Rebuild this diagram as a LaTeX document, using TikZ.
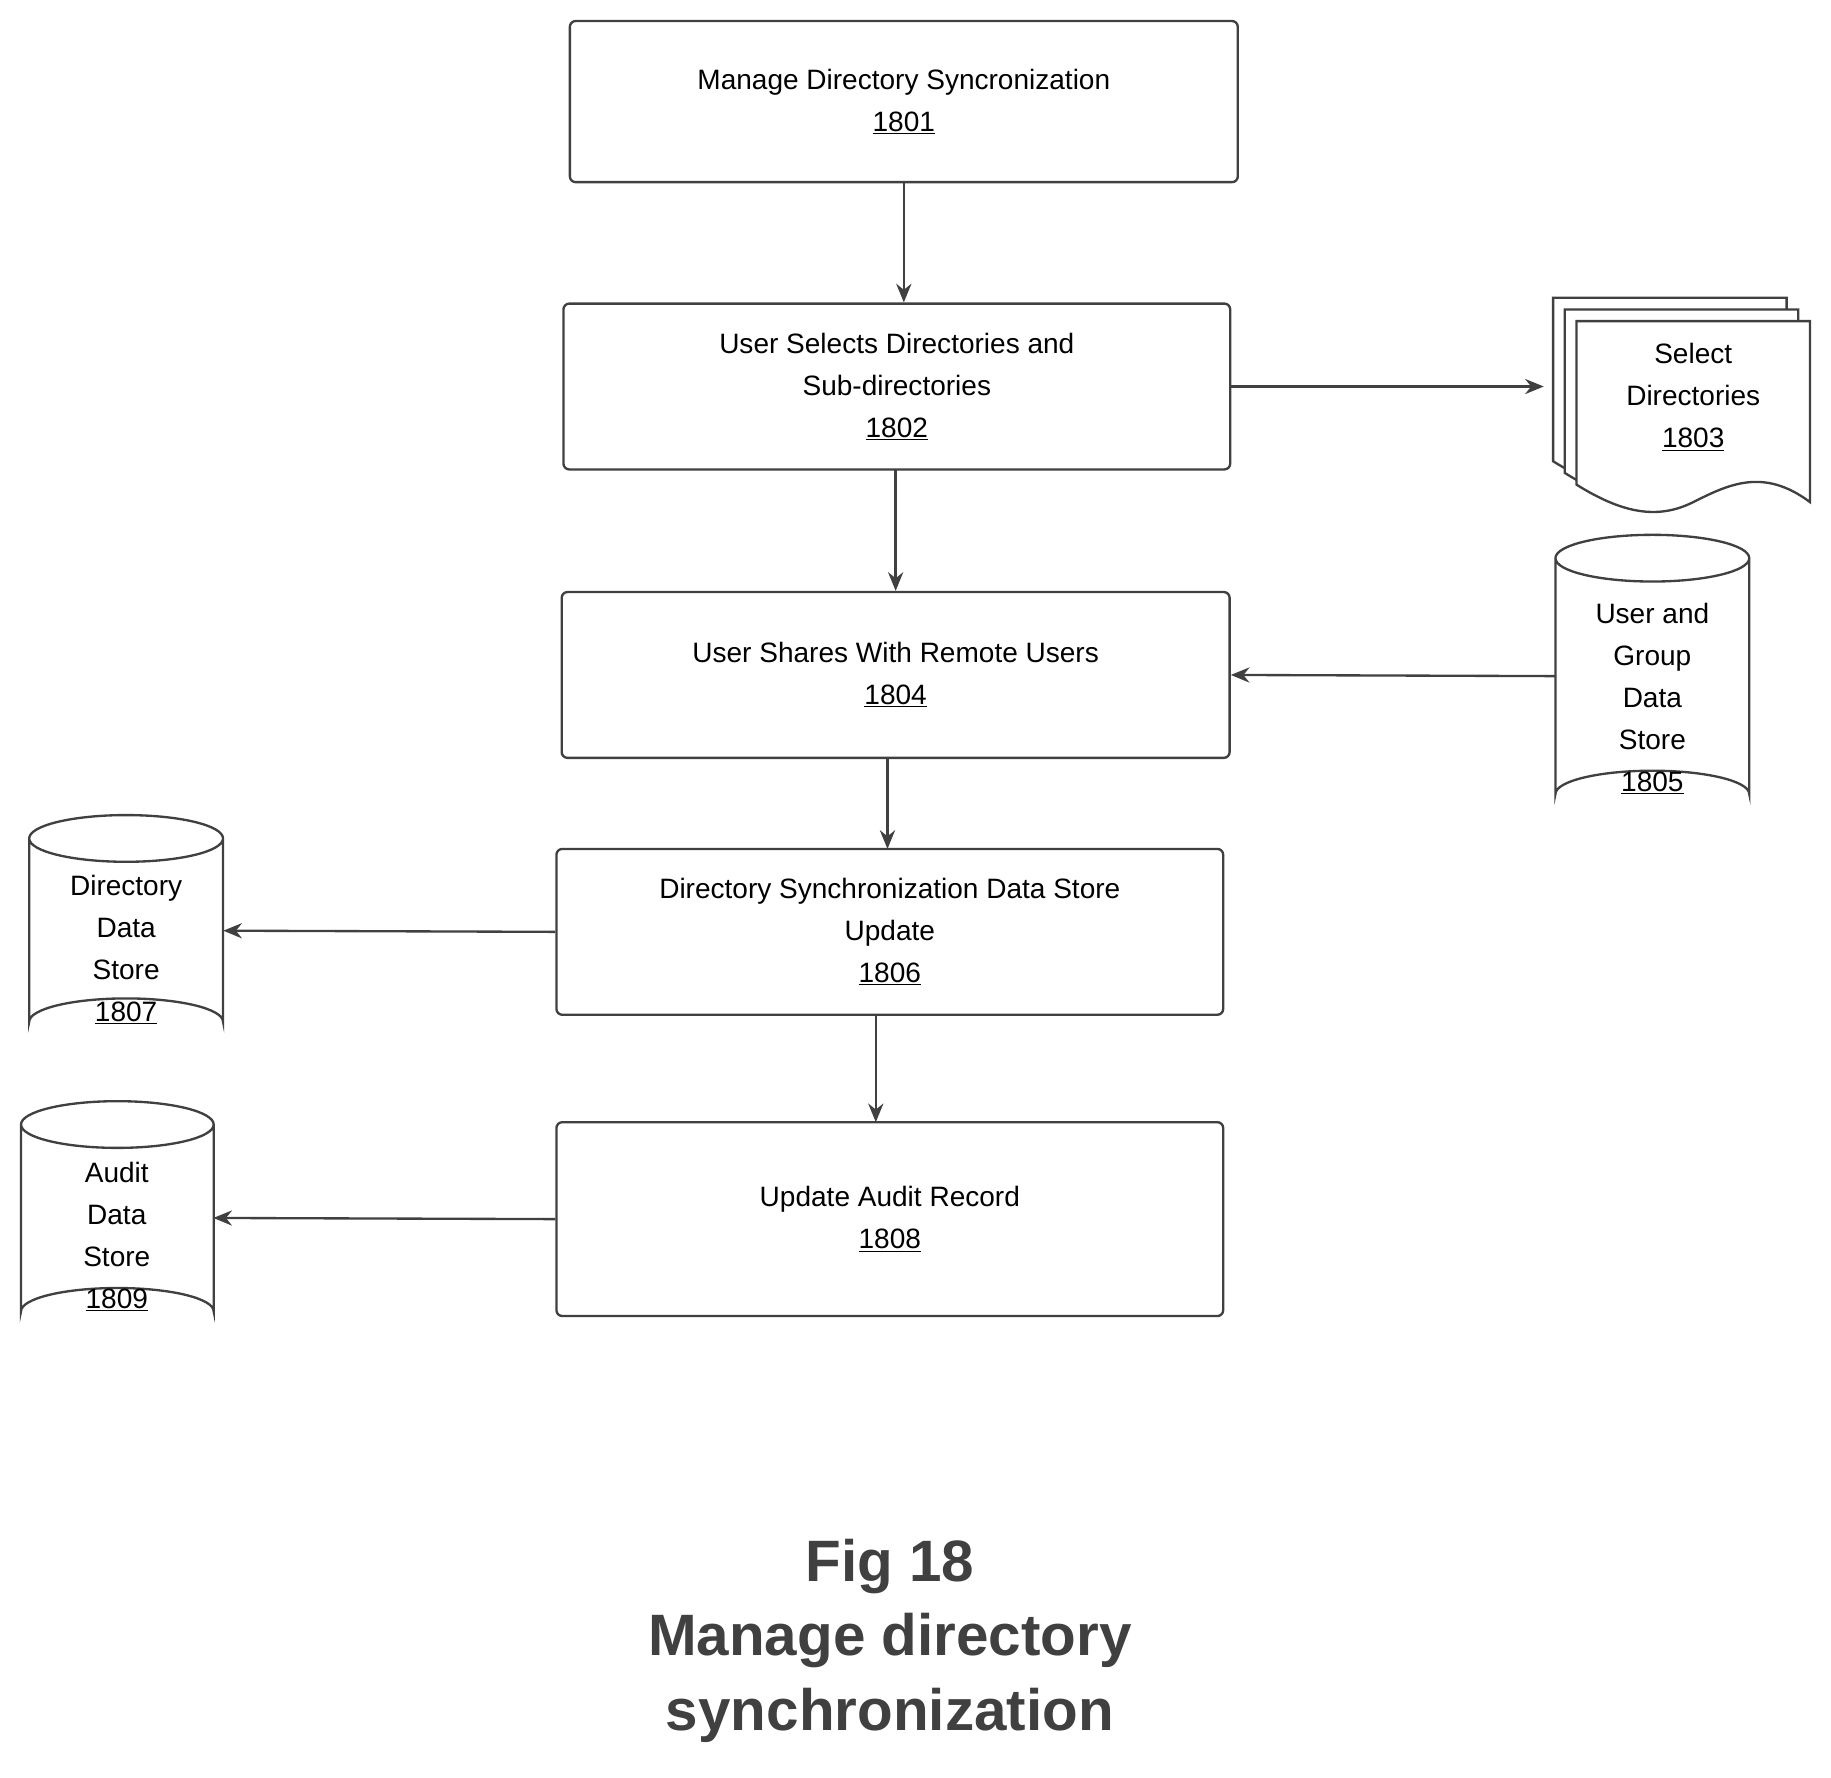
\documentclass[tikz,border=0pt]{standalone}
\usepackage{fontspec}
\setmainfont{Liberation Sans}
\usetikzlibrary{arrows.meta}
\begin{document}
\begin{tikzpicture}[x=1pt,y=-1pt,
 box/.style={draw=black!75,line width=2pt,rounded corners=5pt,align=center,font=\fontsize{24}{36}\selectfont,inner sep=0pt},
 ghost/.style={inner sep=0pt,align=center,font=\fontsize{24}{36}\selectfont},
 arr/.style={draw=black!75,line width=2pt,-{Stealth[length=16pt,width=13pt]}},
 cyl/.style={draw=black!75,line width=2pt}]
\useasboundingbox (0,0) rectangle (1568,1522);
\newcommand\mkcyl[5]{% name, x1, y1, x2, y2
 \pgfmathsetmacro\cx{(#2+#4)/2}\pgfmathsetmacro\rx{(#4-#2)/2}
 \draw[cyl] (#2,#3+20) -- (#2,#5-20) arc[start angle=180,end angle=360,x radius=\rx,y radius=20] -- (#4,#3+20) arc[start angle=0,end angle=-360,x radius=\rx,y radius=20];
 \path (#2,#3) rectangle (#4,#5) coordinate (#1-se);
}
\node[box,minimum width=572pt,minimum height=138pt] (n1) at (774,87) {Manage Directory Syncronization\\\underline{1801}};
\node[box,minimum width=571pt,minimum height=142pt] (n2) at (768,331) {User Selects Directories and\\Sub-directories\\\underline{1802}};
\node[box,minimum width=572pt,minimum height=142pt] (n4) at (767,578) {User Shares With Remote Users\\\underline{1804}};
\node[box,minimum width=571pt,minimum height=142pt] (n6) at (762,798) {Directory Synchronization Data Store\\Update\\\underline{1806}};
\node[box,minimum width=571pt,minimum height=166pt] (n8) at (762,1044) {Update Audit Record\\\underline{1808}};
% document stack 1803
\foreach \d in {0,10,20}{
 \draw[cyl,fill=white] (1330+\d,255+\d) -- (1530+\d,255+\d) -- (1530+\d,410+\d)
   .. controls (1490+\d,380+\d) and (1460+\d,395+\d) .. (1430+\d,410+\d)
   .. controls (1400+\d,425+\d) and (1370+\d,420+\d) .. (1330+\d,395+\d) -- cycle;}
\node[ghost,minimum width=200pt,minimum height=150pt] (n3) at (1440,340) {};
\node[ghost] at (1450,340) {Select\\Directories\\\underline{1803}};
% cylinders
\mkcyl{c5}{1332}{458}{1498}{700}
\node[ghost,minimum width=166pt,minimum height=242pt] (n5) at (1415,579) {};
\node[ghost] at (1415,598) {User and\\Group\\Data\\Store\\\underline{1805}};
\mkcyl{c7}{25}{698}{191}{895}
\node[ghost,minimum width=166pt,minimum height=197pt] (n7) at (108,797) {};
\node[ghost] at (108,813) {Directory\\Data\\Store\\\underline{1807}};
\mkcyl{c9}{18}{943}{183}{1143}
\node[ghost,minimum width=165pt,minimum height=200pt] (n9) at (100,1043) {};
\node[ghost] at (100,1059) {Audit\\Data\\Store\\\underline{1809}};
% arrows
\draw[arr] (n1.south) -- (n1.south |- n2.north);
\draw[arr] (n2.east) -- (1322,331);
\draw[arr] (767,402) -- (n4.north);
\draw[arr] (n5.west) -- (n4.east);
\draw[arr] (760,649) -- (760,727);
\draw[arr] (n6.west) -- (n7.east);
\draw[arr] (750,869) -- (750,961);
\draw[arr] (n8.west) -- (n9.east);
% caption
\node[font=\bfseries\fontsize{50}{64}\selectfont,align=center,text=black!75] (cap) at (762,1405) {Fig 18\\Manage directory\\synchronization};
\end{tikzpicture}
\end{document}
